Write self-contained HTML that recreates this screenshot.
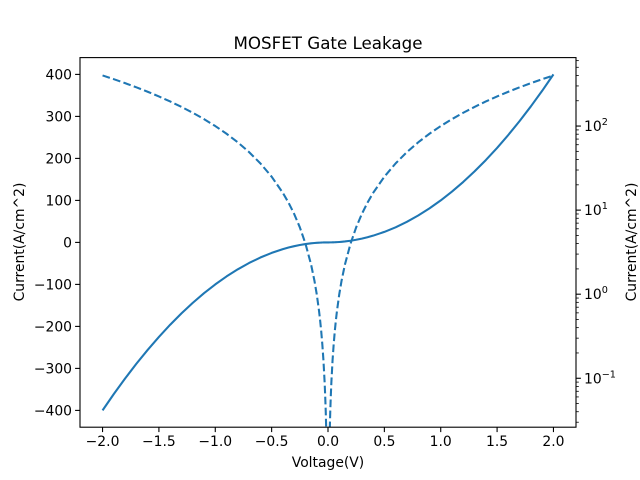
<!DOCTYPE html>
<html><head><meta charset="utf-8"><style>
html,body{margin:0;padding:0;background:#fff}
svg{display:block;font-family:"DejaVu Sans","Liberation Sans",sans-serif}
</style></head><body>
<svg id="chart" width="640" height="480" viewBox="0 0 640 480">
<rect width="640" height="480" fill="#fff"/>
<text x="328" y="49" font-size="16.7" text-anchor="middle">MOSFET Gate Leakage</text>
<defs><clipPath id="clip"><rect x="80" y="57.6" width="496" height="369.6"/></clipPath></defs>
<g id="xticks"></g><g id="lticks"></g><g id="rticks"></g>
<g clip-path="url(#clip)" id="plot"></g>
<rect x="80" y="57.6" width="496" height="369.6" fill="none" stroke="#000" stroke-width="1.1"/>
<text x="328" y="467" font-size="13.9" text-anchor="middle">Voltage(V)</text>
<text transform="translate(24,242) rotate(-90)" font-size="13.9" text-anchor="middle">Current(A/cm^2)</text>
<text transform="translate(636,242) rotate(-90)" font-size="13.9" text-anchor="middle">Current(A/cm^2)</text>
</svg>
<script>
const voltages=[-2,-1.9,-1.8,-1.7,-1.6,-1.5,-1.4,-1.3,-1.2,-1.1,-1,-0.9,-0.8,-0.7,-0.6,-0.5,-0.4,-0.35,-0.3,-0.25,-0.2,-0.15,-0.12,-0.1,-0.08,-0.07,-0.06,-0.05,-0.04,-0.03,-0.025,-0.02,-0.015,-0.01,0,0.01,0.015,0.02,0.025,0.03,0.04,0.05,0.06,0.07,0.08,0.1,0.12,0.15,0.2,0.25,0.3,0.35,0.4,0.5,0.6,0.7,0.8,0.9,1,1.1,1.2,1.3,1.4,1.5,1.6,1.7,1.8,1.9,2];
const currents=[-400,-361,-324,-289,-256,-225,-196,-169,-144,-121,-100,-81,-64,-49,-36,-25,-16,-12.25,-9,-6.25,-4,-2.25,-1.44,-1,-0.64,-0.49,-0.36,-0.25,-0.16,-0.09,-0.0625,-0.04,-0.0225,-0.01,0,0.01,0.0225,0.04,0.0625,0.09,0.16,0.25,0.36,0.49,0.64,1,1.44,2.25,4,6.25,9,12.25,16,25,36,49,64,81,100,121,144,169,196,225,256,289,324,361,400];
const xTicks=[-2,-1.5,-1,-0.5,0,0.5,1,1.5,2];
const xTickLabels=["−2.0","−1.5","−1.0","−0.5","0.0","0.5","1.0","1.5","2.0"];
const leftTicks=[-400,-300,-200,-100,0,100,200,300,400];
const leftTickLabels=["−400","−300","−200","−100","0","100","200","300","400"];
const rightTickExps=[-1,0,1,2];
const NS="http://www.w3.org/2000/svg";
const L=80,R=576,T=57.6,B=427.2;
const xMin=-2.2,xMax=2.2,yMin=-440,yMax=440,lMin=Math.log10(0.02618),lMax=Math.log10(652);
const sx=v=>L+(v-xMin)/(xMax-xMin)*(R-L);
const sy=v=>B-(v-yMin)/(yMax-yMin)*(B-T);
const sl=v=>B-(Math.log10(v)-lMin)/(lMax-lMin)*(B-T);
function mk(t,a,p){const e=document.createElementNS(NS,t);for(const k in a)e.setAttribute(k,a[k]);p.appendChild(e);return e;}
const xt=document.getElementById('xticks');
xTicks.forEach((v,i)=>{const x=sx(v);
const tk=mk('line',{x1:x,x2:x,y1:B,y2:B+4.9,stroke:'#000','stroke-width':1.1},xt);


const tx=mk('text',{x:x,y:B+19,'font-size':13.9,'text-anchor':'middle'},xt);tx.textContent=xTickLabels[i];

});
const lt=document.getElementById('lticks');
leftTicks.forEach((v,i)=>{const y=sy(v);
const tk=mk('line',{x1:L-4.9,x2:L,y1:y,y2:y,stroke:'#000','stroke-width':1.1},lt);


const tx=mk('text',{x:L-8,y:y+5,'font-size':13.9,'text-anchor':'end'},lt);tx.textContent=leftTickLabels[i];

});
const rt=document.getElementById('rticks');
for(let e=-2;e<=2;e++){for(let m=1;m<10;m++){const v=m*Math.pow(10,e);const y=sl(v);if(y<T-0.5||y>B+0.5)continue;
const len=m===1?4.9:2.8;
const tk=mk('line',{x1:R,x2:R+len,y1:y,y2:y,stroke:'#000','stroke-width':m===1?1.1:0.8},rt);

}}
rightTickExps.forEach(e=>{const y=sl(Math.pow(10,e));
const tx=mk('text',{x:R+8,y:y+5,'font-size':13.9},rt);


tx.appendChild(document.createTextNode('10'));
const sp=mk('tspan',{dy:-6,'font-size':9.7},tx);sp.textContent=e<0?'−'+(-e):String(e);});
const plot=document.getElementById('plot');
let d='';voltages.forEach((v,i)=>{d+=(i?'L':'M')+sx(v).toFixed(2)+','+sy(currents[i]).toFixed(2);});
const lin=mk('path',{d:d,fill:'none',stroke:'#1f77b4','stroke-width':2.08,'stroke-linejoin':'round'},plot);


let d2='',pen=false;voltages.forEach((v,i)=>{const a=Math.abs(currents[i]);if(a<=0){pen=false;return;}
d2+=(pen?'L':'M')+sx(v).toFixed(2)+','+sl(a).toFixed(2);pen=true;});
const lg=mk('path',{d:d2,fill:'none',stroke:'#1f77b4','stroke-width':2.08,'stroke-dasharray':'7.7,3.33','stroke-linejoin':'round'},plot);


</script>
</body></html>
